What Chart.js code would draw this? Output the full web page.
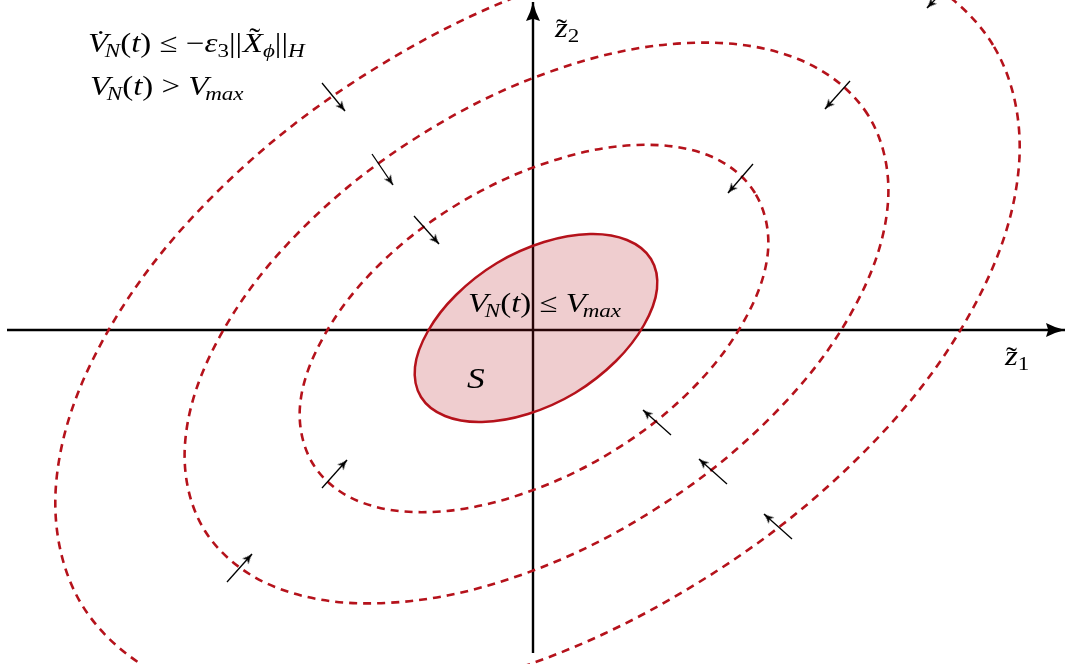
<!DOCTYPE html>
<html>
<head>
<meta charset="utf-8">
<title>Level sets of V_N</title>
<script src="https://cdn.jsdelivr.net/npm/chart.js@4.4.0/dist/chart.umd.min.js"></script>
<style>
  html, body { margin: 0; padding: 0; background: #fff; }
  #wrap { width: 1078px; height: 664px; }
</style>
</head>
<body>
<div id="wrap"><canvas id="chart" width="1078" height="664"></canvas></div>
<script>
// Data, in (z1, z2) units, origin at the axes crossing.
// Each closed curve is a ring of points taken around the drawn ellipse.
const regionS = [
  [118, 71], [94, 90], [57, 96], [11, 88], [-36, 67], [-77, 35], [-105, -1], [-118, -37],
  [-112, -67], [-88, -86], [-51, -92], [-5, -84], [42, -63], [83, -31], [111, 5], [124, 41]
];

const levelInner = [
  [222, 137], [177, 174], [104, 185], [16, 168], [-75, 126], [-154, 65], [-209, -6],
  [-233, -76], [-220, -134], [-175, -171], [-102, -182], [-14, -165], [77, -123],
  [156, -62], [211, 9], [235, 79]
];

const levelMiddle = [
  [335, 215], [265, 271], [155, 287], [22, 260], [-114, 194], [-232, 100], [-314, -8],
  [-348, -114], [-328, -201], [-258, -257], [-148, -273], [-15, -246], [121, -180],
  [239, -86], [321, 22], [355, 128]
];

const levelOuter = [
  [460, 285], [365, 363], [214, 386], [32, 351], [-154, 264], [-317, 137], [-430, -10],
  [-477, -155], [-451, -275], [-356, -353], [-205, -376], [-23, -341], [163, -254],
  [326, -127], [439, 20], [486, 165]
];

// small flow arrows: tail -> head
const arrowTails = [
  [-211, 247], [-161, 176], [-119, 114], [317, 249], [220, 166], [419, 348],
  [-211, -158], [-306, -252], [138, -105], [194, -154], [259, -209]
];
const arrowHeads = [
  [-188, 219], [-140, 145], [-94, 86], [292, 221], [195, 137], [394, 322],
  [-186, -130], [-281, -224], [110, -80], [166, -129], [231, -184]
];

const axisZ1 = [[-526, 0], [532, 0]];
const axisZ2 = [[0, -323], [0, 328]];

// labels (math set as runs of text)
const labelDecay = [
  { t: "V", it: 1, acc: "˙", accX: 0.08, accY: 0.12 },
  { t: "N", it: 1, sub: 1, kern: -0.1 },
  { t: "(" }, { t: "t", it: 1 }, { t: ")" },
  { t: " ≤ " }, { t: "−" },
  { t: "ε", it: 1 }, { t: "3", sub: 1 },
  { t: "||", space: 0.02 },
  { t: "X", it: 1, acc: "˜", accX: 0.06, accY: 0.18 },
  { t: "ϕ", it: 1, sub: 1 },
  { t: "||" },
  { t: "H", it: 1, sub: 1 }
];
const labelOutside = [
  { t: "V", it: 1 }, { t: "N", it: 1, sub: 1, kern: -0.1 },
  { t: "(" }, { t: "t", it: 1 }, { t: ")" },
  { t: " > " },
  { t: "V", it: 1 }, { t: "max", it: 1, sub: 1, kern: -0.1 }
];
const labelInside = [
  { t: "V", it: 1 }, { t: "N", it: 1, sub: 1, kern: -0.1 },
  { t: "(" }, { t: "t", it: 1 }, { t: ")" },
  { t: " ≤ " },
  { t: "V", it: 1 }, { t: "max", it: 1, sub: 1, kern: -0.1 }
];
const labelSet = [{ t: "S", it: 1 }];
const labelZ1 = [{ t: "z", it: 1, acc: "˜", accY: -0.02 }, { t: "1", sub: 1 }];
const labelZ2 = [{ t: "z", it: 1, acc: "˜", accY: -0.02 }, { t: "2", sub: 1 }];

const labelAt = [[-445, 278], [-443, 235], [-65, 18], [-66, -58], [472, -35], [22, 293]];
const labelParts = [labelDecay, labelOutside, labelInside, labelSet, labelZ1, labelZ2];

const RED = "#b5121b";
const MATH_FONT = '"Liberation Serif", "DejaVu Serif", serif';
const FONT_SIZE = 27;
const FONT_STRETCH = 1.22;

const toXY = arr => arr.map(p => ({ x: p[0], y: p[1] }));

// arrow heads drawn once on a canvas, tip at the centre, pointing up
function makeHead(len, half, notch) {
  const c = document.createElement("canvas");
  c.width = c.height = Math.ceil(len * 2 + 4);
  const g = c.getContext("2d");
  const m = c.width / 2;
  g.fillStyle = "#000";
  g.beginPath();
  g.moveTo(m, m);
  g.quadraticCurveTo(m + half * 0.35, m + len * 0.55, m + half, m + len);
  g.lineTo(m, m + len * (1 - notch));
  g.lineTo(m - half, m + len);
  g.quadraticCurveTo(m - half * 0.35, m + len * 0.55, m, m);
  g.fill();
  return c;
}
const smallHead = makeHead(10, 4.2, 0.25);
const bigHead = makeHead(19, 7, 0.12);

function headRotation(ctx) {
  const d = ctx.dataset.data;
  const xs = ctx.chart.scales.x, ys = ctx.chart.scales.y;
  const dx = xs.getPixelForValue(d[1].x) - xs.getPixelForValue(d[0].x);
  const dy = ys.getPixelForValue(d[1].y) - ys.getPixelForValue(d[0].y);
  return Math.atan2(dx, -dy) * 180 / Math.PI;
}

function arrowDataset(from, to, head, width) {
  return {
    data: toXY([from, to]),
    showLine: true,
    fill: false,
    borderColor: "#000",
    borderWidth: width,
    pointStyle: head,
    pointRadius: c => (c.dataIndex === 1 ? 6 : 0),
    pointRotation: headRotation,
    tension: 0
  };
}

function curveDataset(points, opts) {
  return Object.assign({
    data: toXY(points),
    showLine: true,
    closed: true,
    fill: false,
    tension: 0.35,
    pointRadius: 0,
    borderColor: RED,
    borderWidth: 2.6,
    borderDash: [8, 6],
    capBezierPoints: false
  }, opts);
}

// closed curves: reuse the loop mode radar charts use
const closeLoops = {
  id: "closeLoops",
  afterDatasetUpdate(chart, args) {
    const ds = chart.data.datasets[args.index];
    if (ds.closed) {
      args.meta.dataset._loop = true;
      args.meta.dataset._fullLoop = true;
    }
  }
};

// math labels
function drawMath(ctx, x0, y0, parts, size) {
  let x = 0;
  ctx.save();
  ctx.translate(x0, y0);
  ctx.scale(FONT_STRETCH, 1);
  ctx.fillStyle = "#000";
  ctx.textBaseline = "alphabetic";
  ctx.textAlign = "left";
  parts.forEach(p => {
    const fs = p.sub ? size * 0.7 : size;
    ctx.font = (p.it ? "italic " : "") + fs + "px " + MATH_FONT;
    x += (p.kern || 0) * size;
    const y = p.sub ? size * 0.18 : 0;
    ctx.fillText(p.t, x, y);
    const w = ctx.measureText(p.t).width;
    if (p.acc) {
      ctx.font = fs + "px " + MATH_FONT;
      ctx.textAlign = "center";
      ctx.fillText(p.acc, x + w / 2 + (p.accX || 0) * size, y - (p.accY || 0) * size);
      ctx.textAlign = "left";
    }
    x += w + (p.space || 0) * size;
  });
  ctx.restore();
}

const mathLabels = {
  id: "mathLabels",
  afterDatasetsDraw(chart) {
    const { ctx, scales: { x, y } } = chart;
    labelParts.forEach((parts, i) => {
      const size = parts === labelSet ? 29 : FONT_SIZE;
      drawMath(ctx, x.getPixelForValue(labelAt[i][0]), y.getPixelForValue(labelAt[i][1]), parts, size);
    });
  }
};

// datasets: index 0 is painted last (on top)
const datasets = [];
arrowTails.forEach((t, i) => datasets.push(arrowDataset(t, arrowHeads[i], smallHead, 1.3)));
datasets.push(curveDataset(regionS, {
  fill: "shape",
  backgroundColor: "rgba(181, 18, 27, 0.21)",
  borderDash: [],
  borderWidth: 2.5
}));
datasets.push(curveDataset(levelInner));
datasets.push(curveDataset(levelMiddle));
datasets.push(curveDataset(levelOuter));
datasets.push(arrowDataset(axisZ1[0], axisZ1[1], bigHead, 2.4));
datasets.push(arrowDataset(axisZ2[0], axisZ2[1], bigHead, 2.4));

new Chart(document.getElementById("chart"), {
  type: "scatter",
  data: { datasets: datasets },
  options: {
    responsive: false,
    animation: false,
    events: [],
    layout: { padding: 0, autoPadding: false },
    plugins: { legend: { display: false }, tooltip: { enabled: false } },
    scales: {
      x: { type: "linear", min: -533, max: 545, display: false },
      y: { type: "linear", min: -334, max: 330, display: false }
    }
  },
  plugins: [closeLoops, mathLabels]
});
</script>
</body>
</html>
